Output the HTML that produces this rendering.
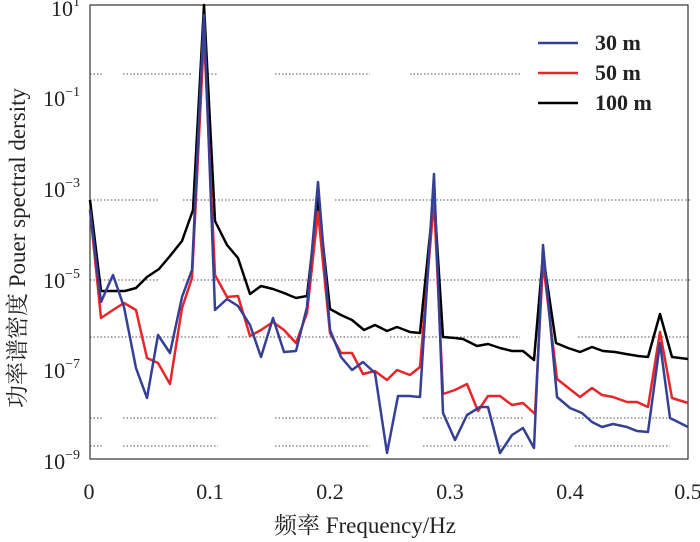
<!DOCTYPE html>
<html><head><meta charset="utf-8"><style>
html,body{margin:0;padding:0;background:#fff;}
svg{display:block;}
text{font-family:"Liberation Serif","Noto Serif CJK SC",serif;fill:#222;}
</style></head><body>
<svg width="700" height="542" viewBox="0 0 700 542" xmlns="http://www.w3.org/2000/svg">
<g stroke="#555" stroke-width="1" stroke-dasharray="1.5,2" fill="none">
<path d="M90 74H103M123 74H193M208 74H218M275 74H370M410 74H520"/>
<path d="M90 200H160M183 200H318M335 200H690"/>
<path d="M90 280H160M183 280H318M335 280H690"/>
<path d="M90 337H220M228 337H370M390 337H520M578 337H690"/>
<path d="M90 418H103M123 418H218M275 418H370M423 418H523M575 418H670"/>
<path d="M90 446H103M123 446H218M275 446H370M423 446H523M575 446H670"/>
</g>
<g stroke="#333" stroke-width="1.2" fill="none">
<rect x="90" y="5" width="598" height="454"/>
</g>
<g stroke="#333" stroke-width="1" id="ticks"></g>
<g fill="none" stroke-width="2.5" stroke-linejoin="round">
<polyline stroke="#000" points="90,200 101,291 113,291 125,291 136,288 147,277 159,269 170,256 182,241 193,210 204,5 215,221 227,245 238,258 250,294 261,286 273,289 284,293 296,298 307,296 318,198 330,309 341,315 352,320 364,330 375,325 387,331 397,327 410,332 420,333 434,195 443,337 455,338 463,339 477,346 488,344 500,348 512,351 523,351 534,360 543,255 556,343 568,348 580,352 592,347 603,351 615,352 626,354 638,356 648,357 660,314 672,357 688,359"/>
<polyline stroke="#e8262a" points="90,210 101,318 113,310 124,303 136,310 147,358 158,363 170,384 182,308 192,278 204,35 215,275 227,297 238,296 250,336 261,330 273,322 284,330 296,343 307,313 318,212 330,333 341,353 352,353 363,374 375,371 387,380 397,370 410,375 420,367 434,200 443,394 455,390 467,384 478,411 488,396 500,396 512,405 523,403 535,414 543,262 557,379 580,397 592,388 602,395 613,397 627,402 637,402 648,407 660,332 672,398 688,403"/>
<polyline stroke="#353f96" points="90,210 101,302 113,275 124,307 136,368 147,398 158,335 170,353 182,297 192,270 204,15 215,310 227,299 238,306 250,325 261,357 273,318 284,352 296,351 307,307 318,182 330,330 341,357 352,370 363,362 375,373 387,453 398,396 409,396 420,397 434,174 443,413 455,440 467,415 480,407 488,407 500,453 512,435 523,428 534,448 543,245 557,397 570,408 582,413 592,422 602,427 613,424 627,427 637,431 648,432 660,343 670,418 688,427"/>
</g>
<g stroke-width="2.5">
<line x1="538" y1="43" x2="578" y2="43" stroke="#353f96"/>
<line x1="538" y1="73" x2="578" y2="73" stroke="#e8262a"/>
<line x1="538" y1="103" x2="578" y2="103" stroke="#000"/>
</g>
<g font-size="22" font-weight="bold">
<text x="595" y="50">30 m</text>
<text x="595" y="80">50 m</text>
<text x="595" y="110">100 m</text>
</g>
<g font-size="22" text-anchor="end">
<text x="80" y="16">10<tspan font-size="14" dy="-10">1</tspan></text>
<text x="80" y="106">10<tspan font-size="14" dy="-10">−1</tspan></text>
<text x="80" y="197">10<tspan font-size="14" dy="-10">−3</tspan></text>
<text x="80" y="288">10<tspan font-size="14" dy="-10">−5</tspan></text>
<text x="80" y="378">10<tspan font-size="14" dy="-10">−7</tspan></text>
<text x="80" y="469">10<tspan font-size="14" dy="-10">−9</tspan></text>
</g>
<g font-size="22" text-anchor="middle">
<text x="89" y="499">0</text>
<text x="210" y="499">0.1</text>
<text x="330" y="499">0.2</text>
<text x="450" y="499">0.3</text>
<text x="570" y="499">0.4</text>
<text x="688" y="499">0.5</text>
<text x="365" y="533" font-size="23">频率 Frequency/Hz</text>
<text transform="translate(25,248) rotate(-90)" font-size="23">功率谱密度 Pouer spectral dersity</text>
</g>
<script>
var g=document.getElementById('ticks'),s='';
for(var d=0;d<10;d++){var y0=5+d*45.4;for(var m=1;m<10;m++){var y=y0+45.4*(1-Math.log10(m));var l=(m==1)?6:3;s+='<line x1="90" x2="'+(90+l)+'" y1="'+y+'" y2="'+y+'"/>';}}
for(var k=1;k<5;k++){var x=90+120*k;s+='<line x1="'+x+'" x2="'+x+'" y1="459" y2="453"/>';}
g.innerHTML=s;
</script>
</svg>
</body></html>
